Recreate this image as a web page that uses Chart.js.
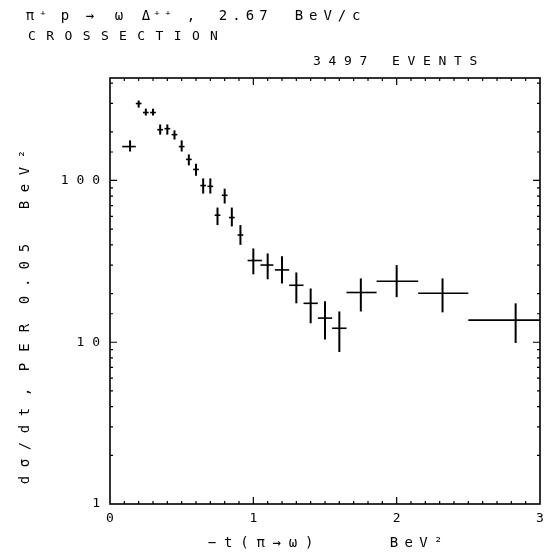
<!DOCTYPE html>
<html>
<head>
<meta charset="utf-8">
<script src="https://cdn.jsdelivr.net/npm/chart.js@4.4.0/dist/chart.umd.min.js"></script>
<style>
    body { margin: 0; background: #fff; }
    #wrap { width: 545px; height: 559px; }
</style>
</head>
<body>
<div id="wrap"><canvas id="xsec" width="545" height="559"></canvas></div>
<script>
// -t (BeV^2): bin centre and the ends of the horizontal bar
const tCenter = [0.14, 0.2, 0.25, 0.3, 0.35, 0.4, 0.45, 0.5, 0.55, 0.6, 0.65, 0.7, 0.75, 0.8, 0.85, 0.91,
                 1.0, 1.1, 1.2, 1.3, 1.4, 1.5, 1.6, 1.75, 2.0, 2.32, 2.83];
const tLow    = [0.085, 0.18, 0.23, 0.28, 0.33, 0.38, 0.43, 0.48, 0.53, 0.58, 0.63, 0.68, 0.73, 0.78, 0.83, 0.89,
                 0.96, 1.05, 1.15, 1.25, 1.35, 1.45, 1.55, 1.65, 1.86, 2.15, 2.5];
const tHigh   = [0.18, 0.22, 0.27, 0.32, 0.37, 0.42, 0.47, 0.52, 0.57, 0.62, 0.67, 0.72, 0.77, 0.82, 0.87, 0.93,
                 1.06, 1.14, 1.25, 1.35, 1.45, 1.55, 1.65, 1.86, 2.15, 2.5, 3.0];

// dsigma/dt per 0.05 BeV^2 with lower / upper error limits
const dsdt    = [162, 299, 263, 263, 206, 209, 192, 162, 135, 117, 93, 92, 61, 81, 59, 46,
                 32, 30, 28, 22.5, 17.4, 14.1, 12.2, 20.3, 23.8, 20.1, 13.7];
const dsdtLo  = [151, 282, 252, 252, 192, 192, 179, 151, 124, 107, 83, 83, 53, 72, 52, 40,
                 26.3, 24.5, 23.1, 17.4, 13.1, 10.4, 8.7, 15.5, 19, 15.3, 9.9];
const dsdtHi  = [177, 312, 278, 278, 222, 222, 204, 177, 145, 127, 103, 103, 68, 89, 68, 53,
                 38, 35.4, 34, 27, 21.5, 17.9, 15.5, 24.8, 30, 24.8, 17.4];

const xRange = [0, 3];
const yRange = [1, 430];

const FONT = '"DejaVu Sans Mono", monospace';
const INK = '#000';

function isWhole(v) { return Math.abs(v - Math.round(v)) < 1e-6; }
function isDecade(v) { const l = Math.log10(v); return Math.abs(l - Math.round(l)) < 1e-6; }

// plotter style lettering: one character at a time on a fixed pitch
function putText(ctx, text, x, y, pitch) {
    Array.from(text).forEach((ch, i) => ctx.fillText(ch, x + i * pitch, y));
}

const crossBars = {
    id: 'crossBars',
    afterDatasetsDraw(chart) {
        const ctx = chart.ctx, xs = chart.scales.x, ys = chart.scales.y;
        ctx.save();
        ctx.strokeStyle = INK;
        ctx.lineCap = 'butt';
        for (let i = 0; i < dsdt.length; i++) {
            const px = xs.getPixelForValue(tCenter[i]);
            const py = ys.getPixelForValue(dsdt[i]);
            ctx.lineWidth = 1.6;
            ctx.beginPath();
            ctx.moveTo(xs.getPixelForValue(tLow[i]), py);
            ctx.lineTo(xs.getPixelForValue(tHigh[i]), py);
            ctx.stroke();
            ctx.lineWidth = 2;
            ctx.beginPath();
            ctx.moveTo(px, ys.getPixelForValue(dsdtLo[i]));
            ctx.lineTo(px, ys.getPixelForValue(dsdtHi[i]));
            ctx.stroke();
        }
        ctx.restore();
    }
};

const plotterFrame = {
    id: 'plotterFrame',
    afterDraw(chart) {
        const ctx = chart.ctx, a = chart.chartArea;
        const xs = chart.scales.x, ys = chart.scales.y;
        ctx.save();
        ctx.strokeStyle = INK;
        ctx.lineWidth = 1.6;
        ctx.strokeRect(a.left, a.top, a.right - a.left, a.bottom - a.top);

        ctx.lineWidth = 1.2;
        ctx.beginPath();
        xs.ticks.forEach(tk => {
            const px = xs.getPixelForValue(tk.value);
            if (px <= a.left + 1 || px >= a.right - 1) return;
            const len = isWhole(tk.value) ? 7 : 3;
            ctx.moveTo(px, a.bottom); ctx.lineTo(px, a.bottom - len);
            ctx.moveTo(px, a.top); ctx.lineTo(px, a.top + len);
        });
        ys.ticks.forEach(tk => {
            const py = ys.getPixelForValue(tk.value);
            if (py <= a.top + 1 || py >= a.bottom - 1) return;
            const len = isDecade(tk.value) ? 7 : 3;
            ctx.moveTo(a.left, py); ctx.lineTo(a.left + len, py);
            ctx.moveTo(a.right, py); ctx.lineTo(a.right - len, py);
        });
        ctx.stroke();

        // headings
        ctx.fillStyle = INK;
        ctx.textAlign = 'center';
        ctx.textBaseline = 'middle';
        ctx.font = '14px ' + FONT;
        putText(ctx, 'π⁺', 30, 16, 13);
        putText(ctx, 'p', 65, 16, 13);
        putText(ctx, '→', 90, 16, 13);
        putText(ctx, 'ω', 119, 16, 13);
        putText(ctx, 'Δ⁺⁺', 146, 16, 11);
        putText(ctx, ',', 191, 16, 13);
        putText(ctx, '2.67', 223, 16, 13.5);
        putText(ctx, 'BeV/c', 299, 16, 14.3);
        ctx.font = '13px ' + FONT;
        putText(ctx, 'CROSSECTION', 32, 37, 18.2);
        putText(ctx, '3497', 317, 62, 15.5);
        putText(ctx, 'EVENTS', 396, 62, 15.5);

        // x axis title
        ctx.font = '14px ' + FONT;
        putText(ctx, '−t(π→ω)', 212, 543, 16.2);
        putText(ctx, 'BeV²', 394, 543, 14.7);

        // y axis title, read bottom to top
        ctx.translate(25, 0);
        ctx.rotate(-Math.PI / 2);
        putText(ctx, 'dσ/dt', -480, 0, 17);
        putText(ctx, ',', -392, 0, 17);
        putText(ctx, 'PER', -367, 0, 19.5);
        putText(ctx, '0.05', -300, 0, 17.3);
        putText(ctx, 'BeV²', -205, 0, 17);
        ctx.restore();
    }
};

const ctx1 = document.getElementById('xsec').getContext('2d');
const xsecChart = new Chart(ctx1, {
    type: 'scatter',
    data: {
        datasets: [{
            label: 'dσ/dt',
            data: tCenter.map((t, i) => ({ x: t, y: dsdt[i] })),
            pointRadius: 0,
            showLine: false
        }]
    },
    options: {
        responsive: false,
        animation: false,
        layout: { padding: { top: 78, right: 5, left: 0, bottom: 0 } },
        plugins: { legend: { display: false }, tooltip: { enabled: false } },
        scales: {
            x: {
                type: 'linear',
                min: xRange[0],
                max: xRange[1],
                grid: { display: false, drawTicks: false },
                border: { display: false },
                afterFit: s => { s.height = 55; s.paddingLeft = 0; s.paddingRight = 0; },
                ticks: {
                    stepSize: 0.1,
                    autoSkip: false,
                    maxRotation: 0,
                    padding: 7,
                    color: INK,
                    font: { family: FONT, size: 13 },
                    callback: v => isWhole(v) ? String(Math.round(v)) : ''
                }
            },
            y: {
                type: 'logarithmic',
                min: yRange[0],
                max: yRange[1],
                grid: { display: false, drawTicks: false },
                border: { display: false },
                afterFit: s => { s.width = 110; s.paddingTop = 0; s.paddingBottom = 0; },
                ticks: {
                    autoSkip: false,
                    padding: 10,
                    color: INK,
                    font: { family: FONT, size: 13 },
                    callback: v => isDecade(v) ? String(Math.round(v)).split('').join(' ') : ''
                }
            }
        }
    },
    plugins: [crossBars, plotterFrame]
});
</script>
</body>
</html>
